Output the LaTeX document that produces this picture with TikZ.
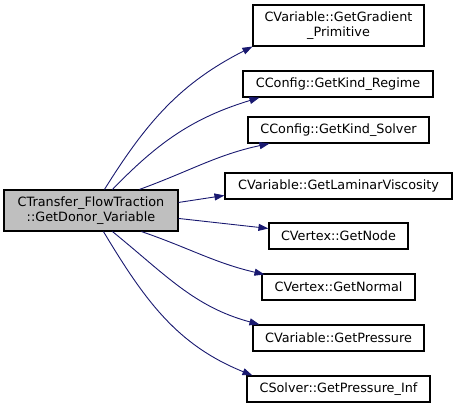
\documentclass[tikz,border=0pt]{standalone}
\usepackage{fontspec}
\setmainfont{DejaVu Sans}
\usepackage{tikz}
\usetikzlibrary{arrows.meta,positioning}
\definecolor{edgeblue}{HTML}{191970}
\definecolor{srcgray}{HTML}{BFBFBF}

\begin{document}
\begin{tikzpicture}[x=1pt, y=1pt,
        fnbox/.style={draw=black, line width=1.1pt, fill=white, inner sep=0pt, align=center,
            minimum height=26pt, font=\fontsize{12.8}{14.5}\selectfont},
        callarrow/.style={edgeblue, line width=0.9pt, -{Triangle[length=10pt,width=7pt]}}]
        \useasboundingbox (0,0) rectangle (457,-407);
        % Funcao chamadora (esquerda)
        \node[fnbox, fill=srcgray, minimum width=174pt, minimum height=41pt] (src) at (91,-210.5)
            {CTransfer\_FlowTraction\\::GetDonor\_Variable};
        % Funcoes chamadas (direita)
        \node[fnbox, minimum width=171pt, minimum height=41pt] (grad) at (338.5,-25.5)
            {CVariable::GetGradient\\\_Primitive};
        \node[fnbox, minimum width=190pt] (regime) at (338,-84) {CConfig::GetKind\_Regime};
        \node[fnbox, minimum width=181pt] (solver) at (338.5,-130) {CConfig::GetKind\_Solver};
        \node[fnbox, minimum width=227pt] (lamvisc) at (338.5,-186) {CVariable::GetLaminarViscosity};
        \node[fnbox, minimum width=139pt] (getnode) at (338.5,-236) {CVertex::GetNode};
        \node[fnbox, minimum width=153pt] (getnormal) at (338.5,-287) {CVertex::GetNormal};
        \node[fnbox, minimum width=171pt] (press) at (338.5,-338) {CVariable::GetPressure};
        \node[fnbox, minimum width=183pt] (pinf) at (338.5,-389) {CSolver::GetPressure\_Inf};
        % Chamadas para cima
        \draw[callarrow] ([xshift=101pt]src.north west) to[out=58, in=207] ([xshift=0pt]grad.south west);
        \draw[callarrow] ([xshift=109pt]src.north west) to[out=46, in=197] ([xshift=17pt]regime.south west);
        \draw[callarrow] ([xshift=136pt]src.north west) to[out=20, in=192] ([xshift=22pt]solver.south west);
        % Chamadas horizontais
        \draw[callarrow] ([yshift=-13pt]src.north east) -- ([yshift=-23pt]lamvisc.north west);
        \draw[callarrow] ([yshift=-29pt]src.north east) -- ([yshift=-6pt]getnode.north west);
        % Chamadas para baixo
        \draw[callarrow] ([xshift=138pt]src.south west) to[out=-19, in=167] ([xshift=3pt,yshift=-1pt]getnormal.north west);
        \draw[callarrow] ([xshift=109pt]src.south west) to[out=-39, in=165] ([xshift=7pt]press.north west);
        \draw[callarrow] ([xshift=100pt]src.south west) to[out=-59, in=158] ([xshift=6pt]pinf.north west);
    \end{tikzpicture}
\end{document}
